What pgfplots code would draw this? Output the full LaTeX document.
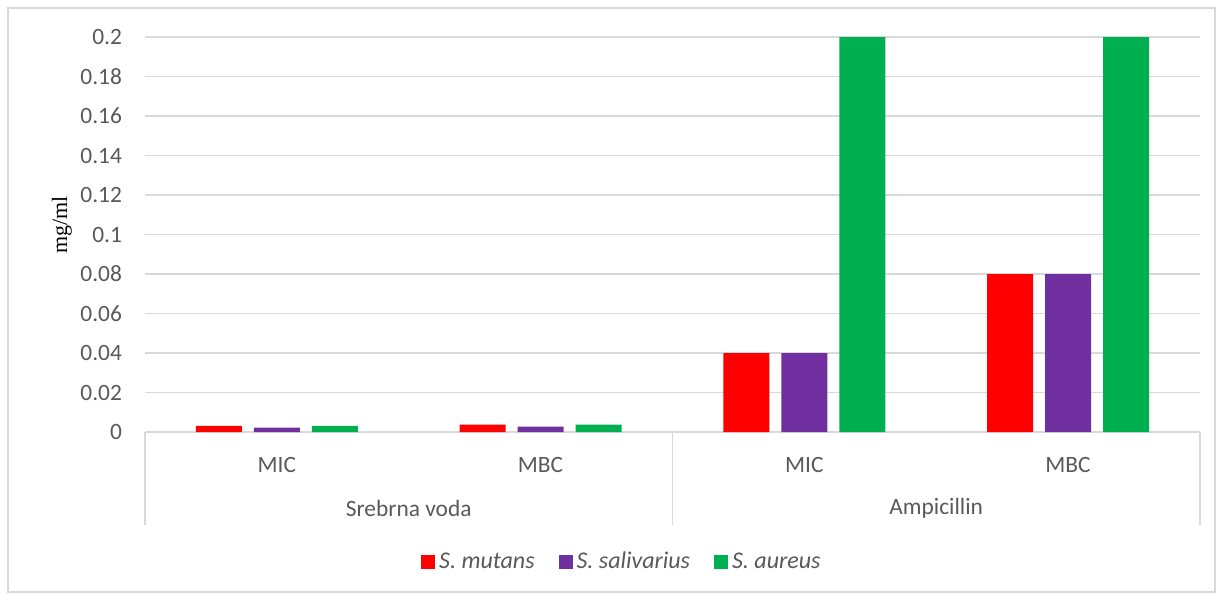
\documentclass[border=0pt]{standalone}
\usepackage{pgfplots}
\pgfplotsset{compat=1.18}
\usepackage{fontspec}
\setmainfont{Carlito}
\newfontfamily\timesfont{Liberation Serif}
\definecolor{txt}{HTML}{595959}
\definecolor{gridc}{HTML}{D9D9D9}
\definecolor{cred}{HTML}{FF0000}
\definecolor{cpurple}{HTML}{7030A0}
\definecolor{cgreen}{HTML}{00B050}

\begin{document}
\begin{tikzpicture}
\begin{axis}[
  width=527.5pt, height=197.5pt, scale only axis,
  ybar=6pt, bar width=23pt,
  xmin=-0.5, xmax=3.5, ymin=0, ymax=0.2,
  xtick={0,1,2,3}, xticklabels={MIC,MBC,MIC,MBC},
  ytick={0,0.02,0.04,0.06,0.08,0.1,0.12,0.14,0.16,0.18,0.2},
  yticklabels={0,0.02,0.04,0.06,0.08,0.1,0.12,0.14,0.16,0.18,0.2},
  major tick length=0pt,
  axis line style={draw=none},
  ymajorgrids, grid style={gridc, line width=0.75pt},
  tick label style={font=\fontsize{11.7}{13}\selectfont, text=txt},
  yticklabel style={xshift=-8pt},
  xticklabel style={yshift=-9pt},
  ylabel={\timesfont mg/ml},
  ylabel style={font=\fontsize{11}{12}\selectfont, text=black,
    at={(axis description cs:-0.0787,0.524)}, anchor=center},
  clip=false,
  legend style={at={(0.453,-0.329)}, anchor=center, draw=none,
    legend columns=-1, font=\fontsize{12}{13}\selectfont\itshape, text=txt,
    /tikz/every even column/.append style={column sep=10pt}},
  legend image code/.code={\fill[#1] (0pt,-3.5pt) rectangle (7pt,3.5pt);},
]
\addplot[fill=cred, draw=none] coordinates {(0,0.0031) (1,0.0037) (2,0.04) (3,0.08)};
\addplot[fill=cpurple, draw=none] coordinates {(0,0.0022) (1,0.0027) (2,0.04) (3,0.08)};
\addplot[fill=cgreen, draw=none] coordinates {(0,0.0031) (1,0.0037) (2,0.2) (3,0.2)};
\legend{S. mutans, S. salivarius, S. aureus}

% category frame below the axis
\draw[gridc, line width=0.75pt] (axis cs:-0.5,0) -- ([yshift=-46.5pt]axis cs:-0.5,0);
\draw[gridc, line width=0.75pt] (axis cs:1.5,0) -- ([yshift=-46.5pt]axis cs:1.5,0);
\draw[gridc, line width=0.75pt] (axis cs:3.5,0) -- ([yshift=-46.5pt]axis cs:3.5,0);
\node[text=txt, font=\fontsize{11.7}{13}\selectfont] at ([yshift=-38pt]axis cs:0.5,0) {Srebrna voda};
\node[text=txt, font=\fontsize{11.7}{13}\selectfont] at ([yshift=-38pt]axis cs:2.5,0) {Ampicillin};

% outer chart border
\draw[gridc, line width=0.75pt] (rel axis cs:-0.1299,1.0734) rectangle (rel axis cs:1.0142,-0.405);
\path (rel axis cs:-0.1374,1.0937) rectangle (rel axis cs:1.019,-0.4101);
\end{axis}
\end{tikzpicture}
\end{document}
